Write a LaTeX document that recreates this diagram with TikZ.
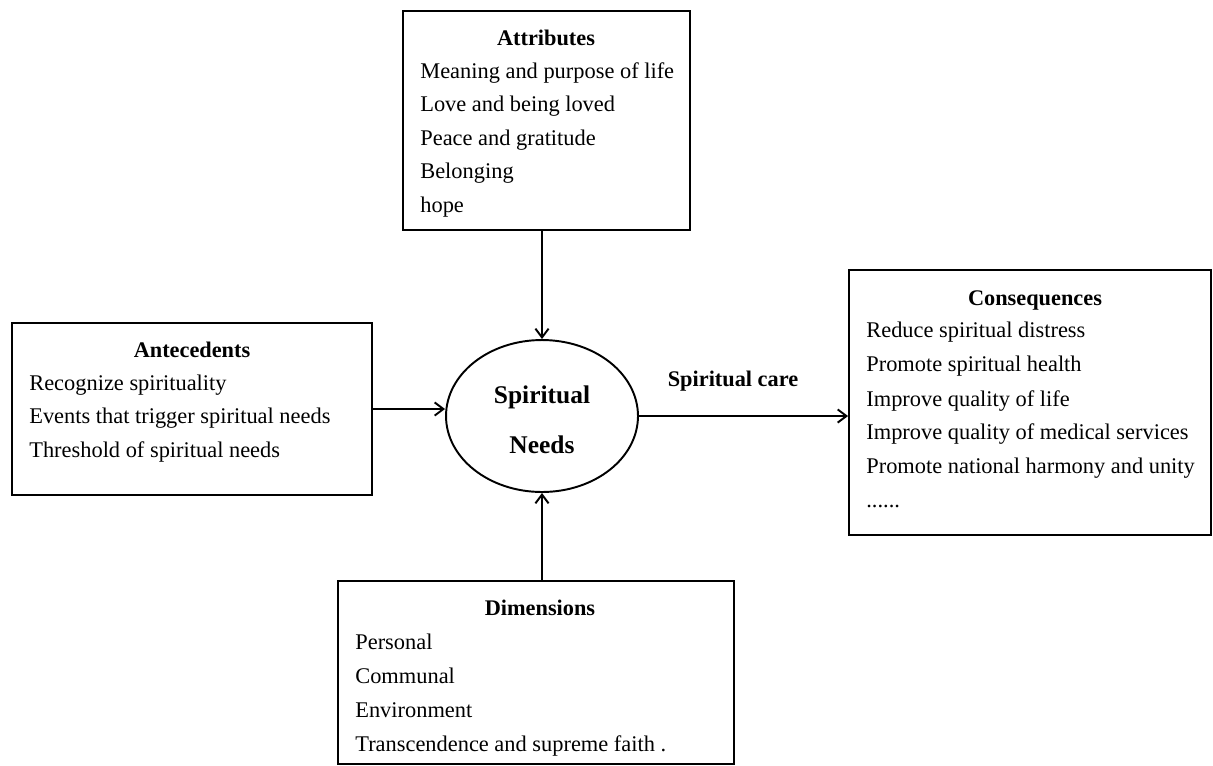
\documentclass[tikz,border=0pt]{standalone}
\usepackage{fontspec}
\setmainfont{Liberation Serif}
\usetikzlibrary{shapes.geometric,arrows.meta}
\tikzset{
  box/.style={draw, line width=1.1pt, rectangle, inner sep=0pt},
  txt/.style={anchor=base west, inner sep=0pt, font=\fontsize{12.75}{15}\selectfont},
  ttl/.style={anchor=base, inner sep=0pt, font=\fontsize{12.7}{15}\selectfont\bfseries},
  link/.style={-{Straight Barb[length=5pt,width=7.5pt]}, line width=1.1pt}
}
\begin{document}
\begin{tikzpicture}[x=0.02cm, y=-0.02cm]
                    \useasboundingbox (0,0) rectangle (1213,765);
                    % boxes
                    \node[box, minimum width=5.74cm, minimum height=4.38cm] (att) at (546.5,120.5) {};
                    \node[box, minimum width=7.2cm, minimum height=3.44cm] (ant) at (192,409) {};
                    \node[box, minimum width=7.24cm, minimum height=5.3cm] (con) at (1030,402.5) {};
                    \node[box, minimum width=7.92cm, minimum height=3.66cm] (dim) at (536,672.5) {};
                    \node[draw, line width=1.1pt, ellipse, minimum width=3.84cm, minimum height=3.04cm, inner sep=0pt] (sn) at (542,416) {};
                    % texts
                    \node[ttl] (attT) at (546,45) {Attributes};
                    \foreach \y/\t [count=\i] in {78/Meaning and purpose of life, 111/Love and being loved,
                        145/Peace and gratitude, 178/Belonging, 212/hope}
                        \node[txt] (att\i) at (420,\y) {\t};
                    \node[ttl] (antT) at (192,357) {Antecedents};
                    \foreach \y/\t [count=\i] in {390/Recognize spirituality, 423/Events that trigger spiritual needs,
                        457/Threshold of spiritual needs}
                        \node[txt] (ant\i) at (29,\y) {\t};
                    \node[ttl] (conT) at (1035,305) {Consequences};
                    \foreach \y/\t [count=\i] in {337/Reduce spiritual distress, 371/Promote spiritual health,
                        406/Improve quality of life, 439/Improve quality of medical services,
                        473/Promote national harmony and unity}
                        \node[txt] (con\i) at (866,\y) {\t};
                    \node[txt] (conDots) at (866,507) {......};
                    \node[ttl] (dimT) at (540,615) {Dimensions};
                    \foreach \y/\t [count=\i] in {649/Personal, 683/Communal, 717/Environment,
                        751/Transcendence and supreme faith .}
                        \node[txt] (dim\i) at (355,\y) {\t};
                    \node[ttl, font=\fontsize{14.5}{17}\selectfont\bfseries] (snA) at (542,403) {Spiritual};
                    \node[ttl, font=\fontsize{14.5}{17}\selectfont\bfseries] (snB) at (542,453) {Needs};
                    \node[ttl] (care) at (733,386) {Spiritual care};
                    % arrows
                    \draw[link] (att.south -| sn.north) -- (sn.north);
                    \draw[link] (ant.east) -- (ant.east -| sn.west);
                    \draw[link] (sn.east) -- (sn.east -| con.west);
                    \draw[link] (dim.north -| sn.south) -- (sn.south);
                \end{tikzpicture}
\end{document}
